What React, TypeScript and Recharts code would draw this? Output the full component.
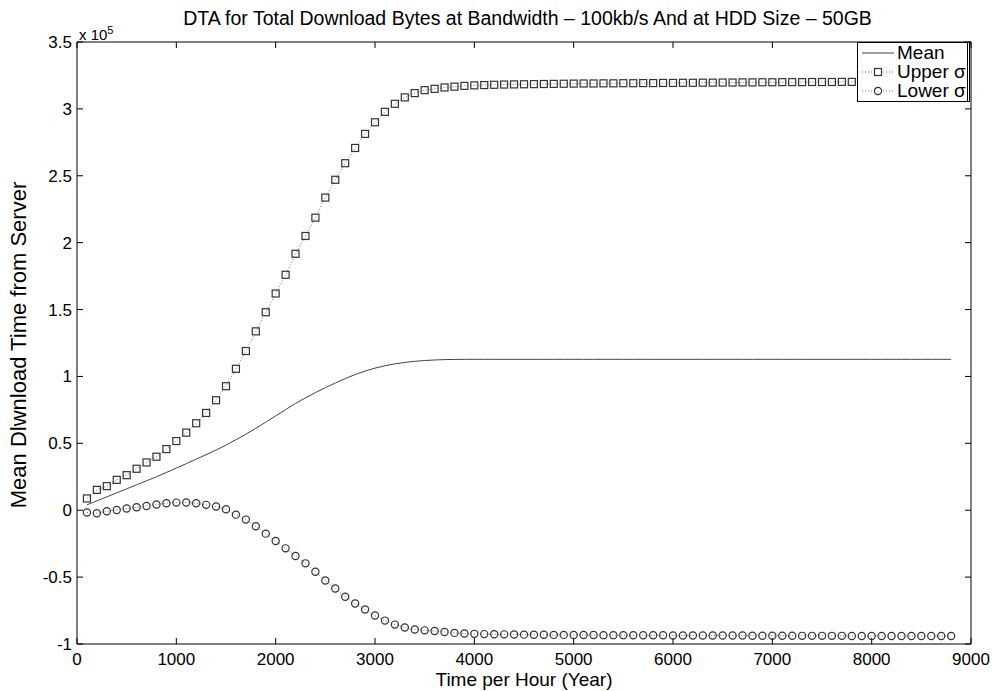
import { LineChart, Line, XAxis, YAxis } from "recharts";

// hours (x), every 100 h
const hours = [
  100, 200, 300, 400, 500, 600, 700, 800, 900, 1000,
  1100, 1200, 1300, 1400, 1500, 1600, 1700, 1800, 1900, 2000,
  2100, 2200, 2300, 2400, 2500, 2600, 2700, 2800, 2900, 3000,
  3100, 3200, 3300, 3400, 3500, 3600, 3700, 3800, 3900, 4000,
  4100, 4200, 4300, 4400, 4500, 4600, 4700, 4800, 4900, 5000,
  5100, 5200, 5300, 5400, 5500, 5600, 5700, 5800, 5900, 6000,
  6100, 6200, 6300, 6400, 6500, 6600, 6700, 6800, 6900, 7000,
  7100, 7200, 7300, 7400, 7500, 7600, 7700, 7800, 7900, 8000,
  8100, 8200, 8300, 8400, 8500, 8600, 8700, 8800,
];

// values in units of 10^5
const mean = [
  0.04, 0.07, 0.1, 0.13, 0.16, 0.19, 0.22, 0.25, 0.282, 0.315,
  0.348, 0.382, 0.415, 0.45, 0.487, 0.527, 0.568, 0.612, 0.658, 0.705,
  0.752, 0.798, 0.84, 0.879, 0.916, 0.951, 0.984, 1.014, 1.04, 1.062,
  1.08, 1.094, 1.105, 1.113, 1.119, 1.123, 1.126, 1.127, 1.128, 1.128,
  1.128, 1.128, 1.128, 1.128, 1.128, 1.128, 1.128, 1.128, 1.128, 1.128,
  1.128, 1.128, 1.128, 1.128, 1.128, 1.128, 1.128, 1.128, 1.128, 1.128,
  1.128, 1.128, 1.128, 1.128, 1.128, 1.128, 1.128, 1.128, 1.128, 1.128,
  1.128, 1.128, 1.128, 1.128, 1.128, 1.128, 1.128, 1.128, 1.128, 1.128,
  1.128, 1.128, 1.128, 1.128, 1.128, 1.128, 1.128, 1.128,
];

const upper = [
  0.088, 0.152, 0.18, 0.227, 0.262, 0.31, 0.357, 0.4, 0.457, 0.517,
  0.58, 0.65, 0.727, 0.822, 0.927, 1.057, 1.19, 1.337, 1.48, 1.62,
  1.76, 1.917, 2.05, 2.187, 2.337, 2.47, 2.594, 2.708, 2.813, 2.9,
  2.978, 3.038, 3.086, 3.118, 3.14, 3.15, 3.16, 3.166, 3.172, 3.176,
  3.178, 3.18, 3.182, 3.183, 3.184, 3.185, 3.186, 3.187, 3.188, 3.189,
  3.19, 3.19, 3.191, 3.191, 3.192, 3.192, 3.193, 3.193, 3.194, 3.194,
  3.195, 3.195, 3.196, 3.196, 3.197, 3.197, 3.198, 3.198, 3.199, 3.199,
  3.2, 3.2, 3.2, 3.201, 3.201, 3.201, 3.202, 3.202, 3.202, 3.203,
  3.203, 3.203, 3.204, 3.204, 3.204, 3.205, 3.205, 3.205,
];

const lower = [
  -0.017, -0.023, -0.008, 0.002, 0.013, 0.022, 0.032, 0.043, 0.052, 0.057,
  0.058, 0.052, 0.04, 0.028, 0.007, -0.033, -0.07, -0.12, -0.175, -0.23,
  -0.285, -0.342, -0.397, -0.46, -0.525, -0.585, -0.647, -0.697, -0.742, -0.787,
  -0.825, -0.855, -0.877, -0.892, -0.898, -0.903, -0.91, -0.917, -0.922, -0.924,
  -0.926, -0.927, -0.928, -0.929, -0.93, -0.931, -0.931, -0.932, -0.932, -0.933,
  -0.933, -0.933, -0.934, -0.934, -0.934, -0.935, -0.935, -0.935, -0.935, -0.936,
  -0.936, -0.936, -0.936, -0.937, -0.937, -0.937, -0.937, -0.938, -0.938, -0.938,
  -0.938, -0.938, -0.939, -0.939, -0.939, -0.939, -0.939, -0.94, -0.94, -0.94,
  -0.94, -0.94, -0.94, -0.94, -0.94, -0.94, -0.94, -0.94,
];

const xTicks = [0, 1000, 2000, 3000, 4000, 5000, 6000, 7000, 8000, 9000];
const yTicks = [-1, -0.5, 0, 0.5, 1, 1.5, 2, 2.5, 3, 3.5];

const data = hours.map((h, i) => ({
  hour: h,
  mean: mean[i],
  upper: upper[i],
  lower: lower[i],
}));

const font = "'Liberation Sans', Arial, sans-serif";
const tickStyle = { fontSize: 17, fill: "#000", fontFamily: font };
const tickLine = { stroke: "#000", strokeWidth: 1 };
const noLabel = () => <g />;

const SquareDot = (p: any) => (
  <rect key={p.index} x={p.cx - 3.5} y={p.cy - 3.5} width={7} height={7} fill="none" stroke="#333" strokeWidth={1.2} />
);
const CircleDot = (p: any) => (
  <circle key={p.index} cx={p.cx} cy={p.cy} r={3.6} fill="none" stroke="#333" strokeWidth={1.2} />
);

function LegendBox() {
  const rows = [
    { name: "Mean", kind: "line" },
    { name: "Upper σ", kind: "square" },
    { name: "Lower σ", kind: "circle" },
  ];
  return (
    <div style={{ position: "absolute", left: 857, top: 42, width: 105, border: "1px solid #000", borderRight: "3px double #000", background: "#fff", padding: "0 0 1px 4px", fontFamily: font, fontSize: 19, lineHeight: "19px" }}>
      {rows.map((r) => (
        <div key={r.name} style={{ display: "flex", alignItems: "center" }}>
          <svg width={32} height={14} style={{ marginRight: 3 }}>
            <line x1={0} y1={7} x2={32} y2={7} stroke={r.kind === "line" ? "#444" : "#777"} strokeWidth={1} strokeDasharray={r.kind === "line" ? undefined : "1 2"} />
            {r.kind === "square" && <rect x={12.5} y={3.5} width={7} height={7} fill="#fff" stroke="#333" strokeWidth={1.2} />}
            {r.kind === "circle" && <circle cx={16} cy={7} r={3.6} fill="#fff" stroke="#333" strokeWidth={1.2} />}
          </svg>
          <span>{r.name}</span>
        </div>
      ))}
    </div>
  );
}

export default function App() {
  return (
    <div style={{ position: "absolute", left: 0, top: 0, width: 997, height: 691, background: "#fff", fontFamily: font }}>
      <LineChart width={997} height={691} data={data} margin={{ top: 41, right: 25, bottom: 17, left: 17 }} style={{ position: "absolute", left: 0, top: 0 }}>
        <XAxis
          dataKey="hour"
          type="number"
          domain={[0, 9000]}
          ticks={xTicks}
          height={30}
          tickSize={-6}
          tickMargin={15}
          tick={tickStyle}
          tickLine={tickLine}
          stroke="#000"
          interval={0}
        />
        {/* box: same scale on top and right, inward ticks */}
        <XAxis
          xAxisId="top"
          dataKey="hour"
          orientation="top"
          type="number"
          domain={[0, 9000]}
          ticks={xTicks}
          height={1}
          tickSize={-6}
          tick={noLabel}
          tickLine={tickLine}
          stroke="#000"
          interval={0}
        />
        <YAxis
          type="number"
          domain={[-1, 3.5]}
          ticks={yTicks}
          width={60}
          tickSize={-6}
          tickMargin={11}
          tick={tickStyle}
          tickLine={tickLine}
          stroke="#000"
          interval={0}
        />
        <YAxis
          yAxisId="right"
          orientation="right"
          type="number"
          domain={[-1, 3.5]}
          ticks={yTicks}
          width={1}
          tickSize={-6}
          tick={noLabel}
          tickLine={tickLine}
          stroke="#000"
          interval={0}
        />
        <Line xAxisId="top" dataKey="mean" name="Mean" stroke="#444" strokeWidth={1} dot={false} isAnimationActive={false} />
        <Line dataKey="upper" name="Upper σ" stroke="#777" strokeWidth={1} strokeDasharray="1 2" dot={SquareDot} isAnimationActive={false} />
        <Line yAxisId="right" dataKey="lower" name="Lower σ" stroke="#777" strokeWidth={1} strokeDasharray="1 2" dot={CircleDot} isAnimationActive={false} />
      </LineChart>
      <div style={{ position: "absolute", left: 0, width: 997, top: 7, textAlign: "center", fontSize: 19.5, paddingLeft: 58, boxSizing: "border-box" }}>
        DTA for Total Download Bytes at Bandwidth – 100kb/s And at HDD Size – 50GB
      </div>
      <div style={{ position: "absolute", left: 79, top: 24, fontSize: 15 }}>
        x 10<sup style={{ fontSize: 11 }}>5</sup>
      </div>
      <div style={{ position: "absolute", left: 524, top: 680, fontSize: 19, whiteSpace: "nowrap", transform: "translate(-50%, -50%)" }}>
        Time per Hour (Year)
      </div>
      <div style={{ position: "absolute", left: 19, top: 345, fontSize: 22, whiteSpace: "nowrap", transform: "translate(-50%, -50%) rotate(-90deg)" }}>
        Mean Dlwnload Time from Server
      </div>
      <LegendBox />
    </div>
  );
}
